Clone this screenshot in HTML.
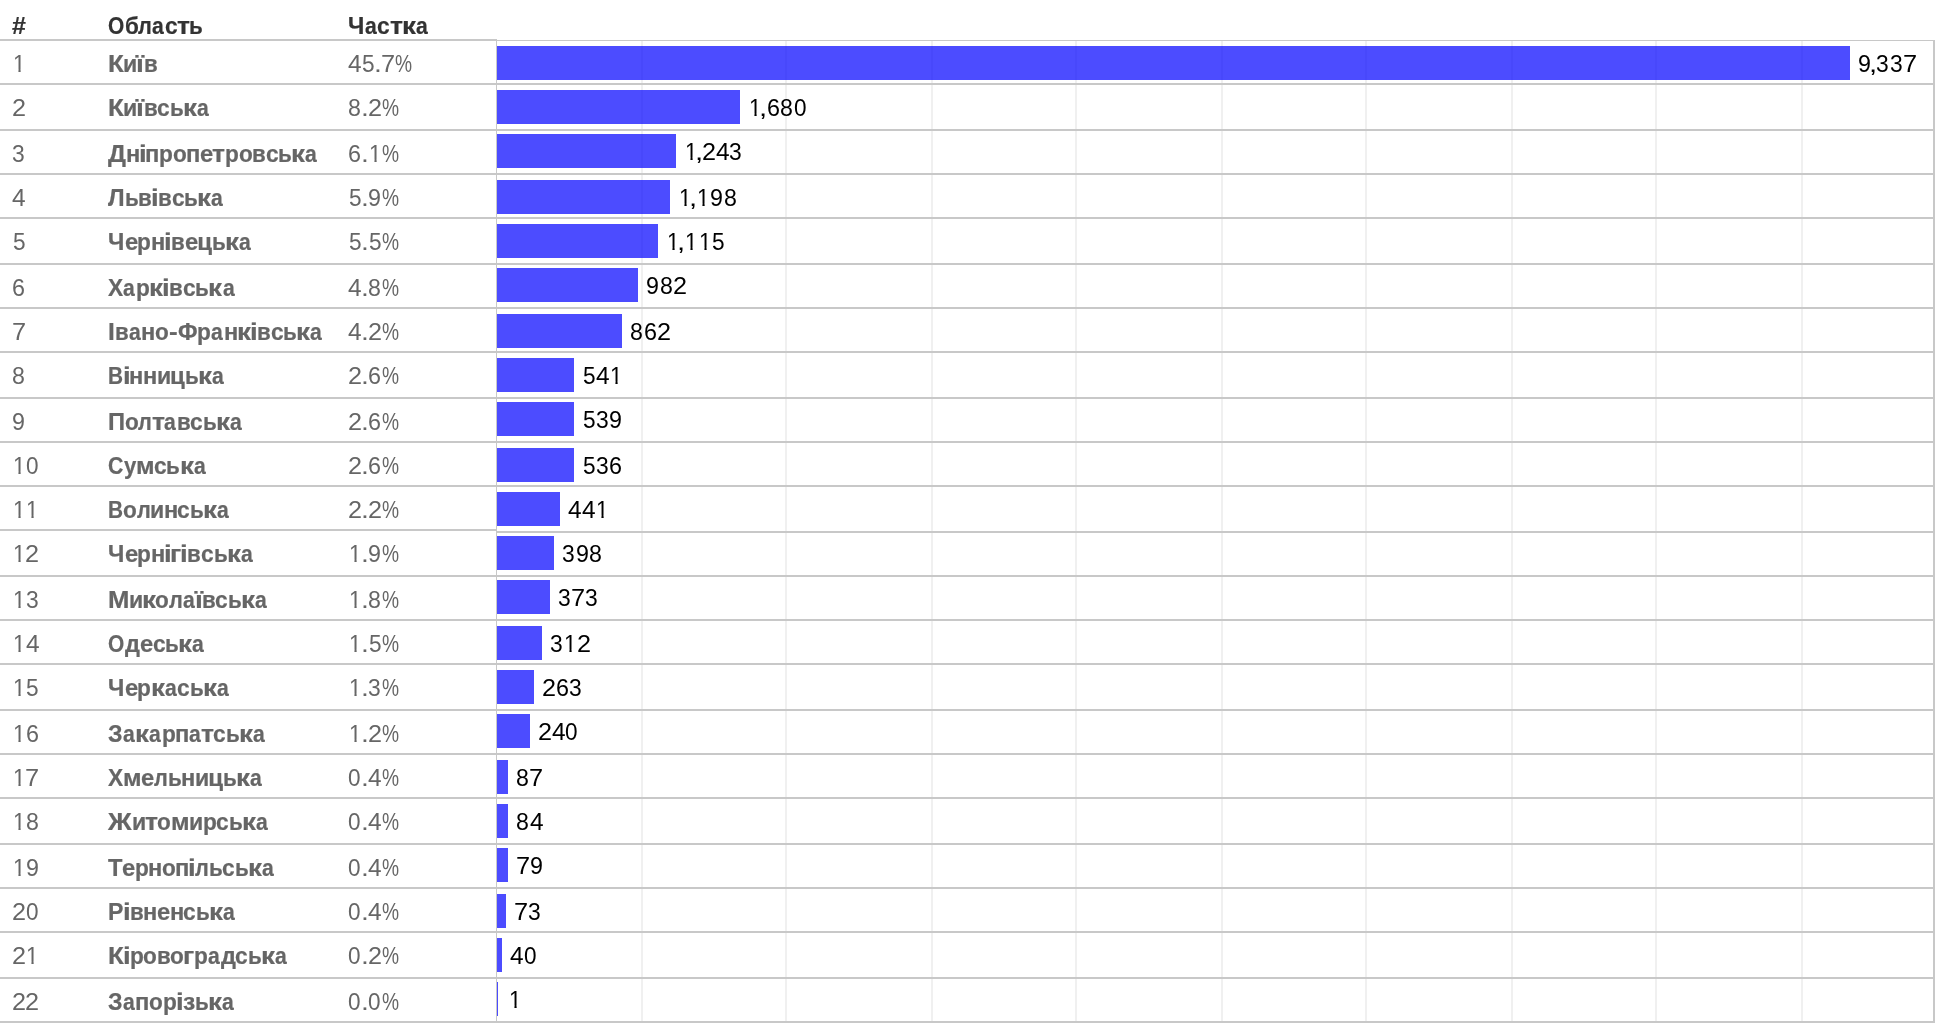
<!DOCTYPE html>
<html lang="uk"><head><meta charset="utf-8"><title>Області</title>
<style>
html,body{margin:0;padding:0;background:#fff;}
body{width:1936px;height:1024px;position:relative;overflow:hidden;font-family:"Liberation Sans",sans-serif;font-size:24px;line-height:28px;}
#w{position:absolute;left:0;top:0;width:1936px;height:1024px;will-change:transform;}
.a{position:absolute;}
.g{position:absolute;top:41px;width:2px;height:982px;background:#f0f0f0;}
.r{position:absolute;left:0;width:497px;height:2px;background:#c8c8c8;}
.c{position:absolute;left:496px;width:1439px;height:2px;background:#c8c8c8;}
.bar{position:absolute;left:497px;height:34px;background:rgba(0,0,255,0.7);}
.t{position:absolute;left:0;height:28px;width:0;white-space:nowrap;}
.t i{position:absolute;top:0;font-style:normal;transform-origin:0 0;white-space:pre;}
.t i.o{clip-path:polygon(0 0,14px 0,14px 19.8px,8.3px 19.8px,8.3px 28px,5.9px 28px,5.9px 19.8px,0 19.8px);}
.hd{font-weight:bold;color:#333;-webkit-text-stroke:0.22px #333;}
.n{color:#666;}
.b{font-weight:bold;color:#666;-webkit-text-stroke:0.22px #666;}
.l{color:#000;}
</style></head><body><div id="w">

<div class="g" style="left:641px"></div>
<div class="g" style="left:785px"></div>
<div class="g" style="left:931px"></div>
<div class="g" style="left:1075px"></div>
<div class="g" style="left:1221px"></div>
<div class="g" style="left:1365px"></div>
<div class="g" style="left:1511px"></div>
<div class="g" style="left:1655px"></div>
<div class="g" style="left:1801px"></div>
<div class="r" style="top:39px"></div>
<div class="r" style="top:83px"></div>
<div class="r" style="top:129px"></div>
<div class="r" style="top:173px"></div>
<div class="r" style="top:217px"></div>
<div class="r" style="top:263px"></div>
<div class="r" style="top:307px"></div>
<div class="r" style="top:351px"></div>
<div class="r" style="top:397px"></div>
<div class="r" style="top:441px"></div>
<div class="r" style="top:485px"></div>
<div class="r" style="top:529px"></div>
<div class="r" style="top:575px"></div>
<div class="r" style="top:619px"></div>
<div class="r" style="top:663px"></div>
<div class="r" style="top:709px"></div>
<div class="r" style="top:753px"></div>
<div class="r" style="top:797px"></div>
<div class="r" style="top:843px"></div>
<div class="r" style="top:887px"></div>
<div class="r" style="top:931px"></div>
<div class="r" style="top:977px"></div>
<div class="r" style="top:1021px"></div>
<div class="c" style="top:40px;height:1px"></div>
<div class="c" style="top:83px"></div>
<div class="c" style="top:129px"></div>
<div class="c" style="top:173px"></div>
<div class="c" style="top:217px"></div>
<div class="c" style="top:263px"></div>
<div class="c" style="top:307px"></div>
<div class="c" style="top:351px"></div>
<div class="c" style="top:397px"></div>
<div class="c" style="top:441px"></div>
<div class="c" style="top:485px"></div>
<div class="c" style="top:531px"></div>
<div class="c" style="top:575px"></div>
<div class="c" style="top:619px"></div>
<div class="c" style="top:663px"></div>
<div class="c" style="top:709px"></div>
<div class="c" style="top:753px"></div>
<div class="c" style="top:797px"></div>
<div class="c" style="top:843px"></div>
<div class="c" style="top:887px"></div>
<div class="c" style="top:931px"></div>
<div class="c" style="top:977px"></div>
<div class="c" style="top:1021px"></div>
<div class="a" style="left:1933px;top:40px;width:2px;height:983px;background:#c8c8c8"></div>
<div class="a" style="left:496px;top:40px;width:1px;height:983px;background:#c8c8c8"></div>
<div class="bar" style="top:46px;width:1353px"></div>
<div class="bar" style="top:90px;width:243px"></div>
<div class="bar" style="top:134px;width:179px"></div>
<div class="bar" style="top:180px;width:173px"></div>
<div class="bar" style="top:224px;width:161px"></div>
<div class="bar" style="top:268px;width:141px"></div>
<div class="bar" style="top:314px;width:125px"></div>
<div class="bar" style="top:358px;width:77px"></div>
<div class="bar" style="top:402px;width:77px"></div>
<div class="bar" style="top:448px;width:77px"></div>
<div class="bar" style="top:492px;width:63px"></div>
<div class="bar" style="top:536px;width:57px"></div>
<div class="bar" style="top:580px;width:53px"></div>
<div class="bar" style="top:626px;width:45px"></div>
<div class="bar" style="top:670px;width:37px"></div>
<div class="bar" style="top:714px;width:33px"></div>
<div class="bar" style="top:760px;width:11px"></div>
<div class="bar" style="top:804px;width:11px"></div>
<div class="bar" style="top:848px;width:11px"></div>
<div class="bar" style="top:894px;width:9px"></div>
<div class="bar" style="top:938px;width:5px"></div>
<div class="bar" style="top:982px;width:1px"></div>
<div class="t hd" style="top:12px"><i style="left:12.26px;transform:scaleX(1.042)">#</i></div>
<div class="t hd" style="top:12px"><i style="left:108.15px;transform:scaleX(0.871)">О</i><i style="left:124.5px;transform:scaleX(0.936)">б</i><i style="left:138.26px;transform:scaleX(0.906)">л</i><i style="left:152px;transform:scaleX(0.882)">а</i><i style="left:164.57px;transform:scaleX(0.948)">с</i><i style="left:176.8px;transform:scaleX(1.104)">т</i><i style="left:189.41px;transform:scaleX(0.933)">ь</i></div>
<div class="t hd" style="top:12px"><i style="left:348.39px;transform:scaleX(0.968)">Ч</i><i style="left:364.81px;transform:scaleX(0.882)">а</i><i style="left:377.38px;transform:scaleX(0.948)">с</i><i style="left:389.62px;transform:scaleX(1.104)">т</i><i style="left:401.85px;transform:scaleX(1.160)">к</i><i style="left:415.91px;transform:scaleX(0.882)">а</i></div>
<div class="t n" style="top:50px"><i class="o" style="left:12.94px;transform:scaleX(0.920)">1</i></div>
<div class="t b" style="top:50px"><i style="left:107.8px;transform:scaleX(1.080)">К</i><i style="left:123.1px;transform:scaleX(0.964)">и</i><i style="left:136.31px;transform:scaleX(1.176)">ї</i><i style="left:143.52px;transform:scaleX(0.929)">в</i></div>
<div class="t n" style="top:50px"><i style="left:348.06px;transform:scaleX(1.019)">4</i><i style="left:362.38px;transform:scaleX(0.943)">5</i><i style="left:374.07px;transform:scaleX(1.179)">.</i><i style="left:380.91px;transform:scaleX(1.057)">7</i><i style="left:395.13px;transform:scaleX(0.800)">%</i></div>
<div class="t l" style="top:50px"><i style="left:1858.08px;transform:scaleX(0.968)">9</i><i style="left:1869.4px;transform:scaleX(1.220)">,</i><i style="left:1876.45px;transform:scaleX(0.951)">3</i><i style="left:1889.93px;transform:scaleX(0.951)">3</i><i style="left:1902.8px;transform:scaleX(1.057)">7</i></div>
<div class="t n" style="top:94px"><i style="left:11.83px;transform:scaleX(1.051)">2</i></div>
<div class="t b" style="top:94px"><i style="left:107.8px;transform:scaleX(1.080)">К</i><i style="left:123.1px;transform:scaleX(0.964)">и</i><i style="left:136.31px;transform:scaleX(1.176)">ї</i><i style="left:143.52px;transform:scaleX(0.929)">в</i><i style="left:156.99px;transform:scaleX(0.948)">с</i><i style="left:169.58px;transform:scaleX(0.933)">ь</i><i style="left:182.62px;transform:scaleX(1.160)">к</i><i style="left:196.67px;transform:scaleX(0.882)">а</i></div>
<div class="t n" style="top:94px"><i style="left:348.32px;transform:scaleX(0.964)">8</i><i style="left:360.59px;transform:scaleX(1.179)">.</i><i style="left:367.64px;transform:scaleX(1.051)">2</i><i style="left:381.64px;transform:scaleX(0.800)">%</i></div>
<div class="t l" style="top:94px"><i class="o" style="left:748.94px;transform:scaleX(0.920)">1</i><i style="left:759.4px;transform:scaleX(1.220)">,</i><i style="left:766.58px;transform:scaleX(0.974)">6</i><i style="left:780.01px;transform:scaleX(0.964)">8</i><i style="left:793.65px;transform:scaleX(0.940)">0</i></div>
<div class="t n" style="top:140px"><i style="left:12.24px;transform:scaleX(0.951)">3</i></div>
<div class="t b" style="top:140px"><i style="left:108.09px;transform:scaleX(1.050)">Д</i><i style="left:125.52px;transform:scaleX(0.985)">н</i><i style="left:138.8px;transform:scaleX(1.153)">і</i><i style="left:145.46px;transform:scaleX(0.988)">п</i><i style="left:159.22px;transform:scaleX(0.943)">р</i><i style="left:172.79px;transform:scaleX(0.939)">о</i><i style="left:186.1px;transform:scaleX(0.988)">п</i><i style="left:199.95px;transform:scaleX(0.993)">е</i><i style="left:212.49px;transform:scaleX(1.104)">т</i><i style="left:224.94px;transform:scaleX(0.943)">р</i><i style="left:238.51px;transform:scaleX(0.939)">о</i><i style="left:252.15px;transform:scaleX(0.929)">в</i><i style="left:265.62px;transform:scaleX(0.948)">с</i><i style="left:278.2px;transform:scaleX(0.933)">ь</i><i style="left:291.23px;transform:scaleX(1.160)">к</i><i style="left:305.28px;transform:scaleX(0.882)">а</i></div>
<div class="t n" style="top:140px"><i style="left:348.37px;transform:scaleX(0.974)">6</i><i style="left:360.59px;transform:scaleX(1.179)">.</i><i class="o" style="left:368.76px;transform:scaleX(0.920)">1</i><i style="left:381.64px;transform:scaleX(0.800)">%</i></div>
<div class="t l" style="top:138px"><i class="o" style="left:684.94px;transform:scaleX(0.920)">1</i><i style="left:695.4px;transform:scaleX(1.220)">,</i><i style="left:702.04px;transform:scaleX(1.051)">2</i><i style="left:715.75px;transform:scaleX(1.019)">4</i><i style="left:729.43px;transform:scaleX(0.951)">3</i></div>
<div class="t n" style="top:184px"><i style="left:12.06px;transform:scaleX(1.019)">4</i></div>
<div class="t b" style="top:184px"><i style="left:108.38px;transform:scaleX(0.986)">Л</i><i style="left:124.91px;transform:scaleX(0.933)">ь</i><i style="left:138.31px;transform:scaleX(0.929)">в</i><i style="left:151.23px;transform:scaleX(1.153)">і</i><i style="left:158.23px;transform:scaleX(0.929)">в</i><i style="left:171.68px;transform:scaleX(0.948)">с</i><i style="left:184.28px;transform:scaleX(0.933)">ь</i><i style="left:197.3px;transform:scaleX(1.160)">к</i><i style="left:211.36px;transform:scaleX(0.882)">а</i></div>
<div class="t n" style="top:184px"><i style="left:348.9px;transform:scaleX(0.943)">5</i><i style="left:360.59px;transform:scaleX(1.179)">.</i><i style="left:367.9px;transform:scaleX(0.968)">9</i><i style="left:381.64px;transform:scaleX(0.800)">%</i></div>
<div class="t l" style="top:184px"><i class="o" style="left:678.94px;transform:scaleX(0.920)">1</i><i style="left:689.4px;transform:scaleX(1.220)">,</i><i class="o" style="left:697.15px;transform:scaleX(0.920)">1</i><i style="left:709.77px;transform:scaleX(0.968)">9</i><i style="left:723.51px;transform:scaleX(0.964)">8</i></div>
<div class="t n" style="top:228px"><i style="left:12.9px;transform:scaleX(0.943)">5</i></div>
<div class="t b" style="top:228px"><i style="left:108.39px;transform:scaleX(0.968)">Ч</i><i style="left:124.56px;transform:scaleX(0.993)">е</i><i style="left:137.44px;transform:scaleX(0.943)">р</i><i style="left:150.77px;transform:scaleX(0.985)">н</i><i style="left:164.05px;transform:scaleX(1.153)">і</i><i style="left:171.02px;transform:scaleX(0.929)">в</i><i style="left:184.51px;transform:scaleX(0.993)">е</i><i style="left:197.2px">ц</i><i style="left:212.02px;transform:scaleX(0.933)">ь</i><i style="left:225.04px;transform:scaleX(1.160)">к</i><i style="left:239.09px;transform:scaleX(0.882)">а</i></div>
<div class="t n" style="top:228px"><i style="left:348.9px;transform:scaleX(0.943)">5</i><i style="left:360.59px;transform:scaleX(1.179)">.</i><i style="left:368.71px;transform:scaleX(0.943)">5</i><i style="left:381.64px;transform:scaleX(0.800)">%</i></div>
<div class="t l" style="top:228px"><i class="o" style="left:666.94px;transform:scaleX(0.920)">1</i><i style="left:677.4px;transform:scaleX(1.220)">,</i><i class="o" style="left:685.15px;transform:scaleX(0.920)">1</i><i class="o" style="left:698.63px;transform:scaleX(0.920)">1</i><i style="left:712.09px;transform:scaleX(0.943)">5</i></div>
<div class="t n" style="top:274px"><i style="left:12.37px;transform:scaleX(0.974)">6</i></div>
<div class="t b" style="top:274px"><i style="left:108.05px;transform:scaleX(0.946)">Х</i><i style="left:123.39px;transform:scaleX(0.882)">а</i><i style="left:135.89px;transform:scaleX(0.943)">р</i><i style="left:149.18px;transform:scaleX(1.160)">к</i><i style="left:162.42px;transform:scaleX(1.153)">і</i><i style="left:169.4px;transform:scaleX(0.929)">в</i><i style="left:182.87px;transform:scaleX(0.948)">с</i><i style="left:195.45px;transform:scaleX(0.933)">ь</i><i style="left:208.48px;transform:scaleX(1.160)">к</i><i style="left:222.53px;transform:scaleX(0.882)">а</i></div>
<div class="t n" style="top:274px"><i style="left:348.06px;transform:scaleX(1.019)">4</i><i style="left:360.59px;transform:scaleX(1.179)">.</i><i style="left:368.13px;transform:scaleX(0.964)">8</i><i style="left:381.64px;transform:scaleX(0.800)">%</i></div>
<div class="t l" style="top:272px"><i style="left:646.08px;transform:scaleX(0.968)">9</i><i style="left:659.8px;transform:scaleX(0.964)">8</i><i style="left:672.8px;transform:scaleX(1.051)">2</i></div>
<div class="t n" style="top:318px"><i style="left:11.61px;transform:scaleX(1.057)">7</i></div>
<div class="t b" style="top:318px"><i style="left:108.13px;transform:scaleX(1.015)">І</i><i style="left:114.99px;transform:scaleX(0.929)">в</i><i style="left:128.74px;transform:scaleX(0.882)">а</i><i style="left:141.07px;transform:scaleX(0.985)">н</i><i style="left:154.89px;transform:scaleX(0.939)">о</i><i style="left:168.88px;transform:scaleX(1.086)">-</i><i style="left:178.06px;transform:scaleX(0.954)">Ф</i><i style="left:197.41px;transform:scaleX(0.943)">р</i><i style="left:211.25px;transform:scaleX(0.882)">а</i><i style="left:223.59px;transform:scaleX(0.985)">н</i><i style="left:237.12px;transform:scaleX(1.160)">к</i><i style="left:250.36px;transform:scaleX(1.153)">і</i><i style="left:257.35px;transform:scaleX(0.929)">в</i><i style="left:270.82px;transform:scaleX(0.948)">с</i><i style="left:283.41px;transform:scaleX(0.933)">ь</i><i style="left:296.43px;transform:scaleX(1.160)">к</i><i style="left:310.49px;transform:scaleX(0.882)">а</i></div>
<div class="t n" style="top:318px"><i style="left:348.06px;transform:scaleX(1.019)">4</i><i style="left:360.59px;transform:scaleX(1.179)">.</i><i style="left:367.64px;transform:scaleX(1.051)">2</i><i style="left:381.64px;transform:scaleX(0.800)">%</i></div>
<div class="t l" style="top:318px"><i style="left:630.32px;transform:scaleX(0.964)">8</i><i style="left:643.86px;transform:scaleX(0.974)">6</i><i style="left:656.8px;transform:scaleX(1.051)">2</i></div>
<div class="t n" style="top:362px"><i style="left:12.32px;transform:scaleX(0.964)">8</i></div>
<div class="t b" style="top:362px"><i style="left:108.13px;transform:scaleX(0.867)">В</i><i style="left:122.66px;transform:scaleX(1.153)">і</i><i style="left:129.3px;transform:scaleX(0.985)">н</i><i style="left:142.9px;transform:scaleX(0.985)">н</i><i style="left:156.52px;transform:scaleX(0.964)">и</i><i style="left:170.04px">ц</i><i style="left:184.86px;transform:scaleX(0.933)">ь</i><i style="left:197.88px;transform:scaleX(1.160)">к</i><i style="left:211.94px;transform:scaleX(0.882)">а</i></div>
<div class="t n" style="top:362px"><i style="left:347.83px;transform:scaleX(1.051)">2</i><i style="left:360.59px;transform:scaleX(1.179)">.</i><i style="left:368.18px;transform:scaleX(0.974)">6</i><i style="left:381.64px;transform:scaleX(0.800)">%</i></div>
<div class="t l" style="top:362px"><i style="left:582.9px;transform:scaleX(0.943)">5</i><i style="left:595.54px;transform:scaleX(1.019)">4</i><i class="o" style="left:609.91px;transform:scaleX(0.920)">1</i></div>
<div class="t n" style="top:408px"><i style="left:12.08px;transform:scaleX(0.968)">9</i></div>
<div class="t b" style="top:408px"><i style="left:107.95px;transform:scaleX(0.989)">П</i><i style="left:124.86px;transform:scaleX(0.939)">о</i><i style="left:138.35px;transform:scaleX(0.906)">л</i><i style="left:151.55px;transform:scaleX(1.104)">т</i><i style="left:164.16px;transform:scaleX(0.882)">а</i><i style="left:176.82px;transform:scaleX(0.929)">в</i><i style="left:190.29px;transform:scaleX(0.948)">с</i><i style="left:202.88px;transform:scaleX(0.933)">ь</i><i style="left:215.9px;transform:scaleX(1.160)">к</i><i style="left:229.95px;transform:scaleX(0.882)">а</i></div>
<div class="t n" style="top:408px"><i style="left:347.83px;transform:scaleX(1.051)">2</i><i style="left:360.59px;transform:scaleX(1.179)">.</i><i style="left:368.18px;transform:scaleX(0.974)">6</i><i style="left:381.64px;transform:scaleX(0.800)">%</i></div>
<div class="t l" style="top:406px"><i style="left:582.9px;transform:scaleX(0.943)">5</i><i style="left:595.73px;transform:scaleX(0.951)">3</i><i style="left:609.05px;transform:scaleX(0.968)">9</i></div>
<div class="t n" style="top:452px"><i class="o" style="left:12.94px;transform:scaleX(0.920)">1</i><i style="left:25.95px;transform:scaleX(0.940)">0</i></div>
<div class="t b" style="top:452px"><i style="left:108.14px;transform:scaleX(0.888)">С</i><i style="left:123.57px;transform:scaleX(0.922)">у</i><i style="left:135.56px;transform:scaleX(1.046)">м</i><i style="left:153.88px;transform:scaleX(0.948)">с</i><i style="left:166.47px;transform:scaleX(0.933)">ь</i><i style="left:179.51px;transform:scaleX(1.160)">к</i><i style="left:193.56px;transform:scaleX(0.882)">а</i></div>
<div class="t n" style="top:452px"><i style="left:347.83px;transform:scaleX(1.051)">2</i><i style="left:360.59px;transform:scaleX(1.179)">.</i><i style="left:368.18px;transform:scaleX(0.974)">6</i><i style="left:381.64px;transform:scaleX(0.800)">%</i></div>
<div class="t l" style="top:452px"><i style="left:582.9px;transform:scaleX(0.943)">5</i><i style="left:595.73px;transform:scaleX(0.951)">3</i><i style="left:609.34px;transform:scaleX(0.974)">6</i></div>
<div class="t n" style="top:496px"><i class="o" style="left:12.94px;transform:scaleX(0.920)">1</i><i class="o" style="left:26.43px;transform:scaleX(0.920)">1</i></div>
<div class="t b" style="top:496px"><i style="left:108.13px;transform:scaleX(0.867)">В</i><i style="left:123.2px;transform:scaleX(0.939)">о</i><i style="left:136.69px;transform:scaleX(0.906)">л</i><i style="left:149.98px;transform:scaleX(0.964)">и</i><i style="left:163.52px;transform:scaleX(0.985)">н</i><i style="left:177.35px;transform:scaleX(0.948)">с</i><i style="left:189.94px;transform:scaleX(0.933)">ь</i><i style="left:202.96px;transform:scaleX(1.160)">к</i><i style="left:217.02px;transform:scaleX(0.882)">а</i></div>
<div class="t n" style="top:496px"><i style="left:347.83px;transform:scaleX(1.051)">2</i><i style="left:360.59px;transform:scaleX(1.179)">.</i><i style="left:367.64px;transform:scaleX(1.051)">2</i><i style="left:381.64px;transform:scaleX(0.800)">%</i></div>
<div class="t l" style="top:496px"><i style="left:568.06px;transform:scaleX(1.019)">4</i><i style="left:581.54px;transform:scaleX(1.019)">4</i><i class="o" style="left:595.91px;transform:scaleX(0.920)">1</i></div>
<div class="t n" style="top:540px"><i class="o" style="left:12.94px;transform:scaleX(0.920)">1</i><i style="left:25.32px;transform:scaleX(1.051)">2</i></div>
<div class="t b" style="top:540px"><i style="left:108.39px;transform:scaleX(0.968)">Ч</i><i style="left:124.56px;transform:scaleX(0.993)">е</i><i style="left:137.44px;transform:scaleX(0.943)">р</i><i style="left:150.77px;transform:scaleX(0.985)">н</i><i style="left:164.05px;transform:scaleX(1.153)">і</i><i style="left:170.45px;transform:scaleX(1.126)">г</i><i style="left:180.47px;transform:scaleX(1.153)">і</i><i style="left:187.45px;transform:scaleX(0.929)">в</i><i style="left:200.91px;transform:scaleX(0.948)">с</i><i style="left:213.5px;transform:scaleX(0.933)">ь</i><i style="left:226.52px;transform:scaleX(1.160)">к</i><i style="left:240.58px;transform:scaleX(0.882)">а</i></div>
<div class="t n" style="top:540px"><i class="o" style="left:348.94px;transform:scaleX(0.920)">1</i><i style="left:360.59px;transform:scaleX(1.179)">.</i><i style="left:367.9px;transform:scaleX(0.968)">9</i><i style="left:381.64px;transform:scaleX(0.800)">%</i></div>
<div class="t l" style="top:540px"><i style="left:562.24px;transform:scaleX(0.951)">3</i><i style="left:575.57px;transform:scaleX(0.968)">9</i><i style="left:589.29px;transform:scaleX(0.964)">8</i></div>
<div class="t n" style="top:586px"><i class="o" style="left:12.94px;transform:scaleX(0.920)">1</i><i style="left:25.73px;transform:scaleX(0.951)">3</i></div>
<div class="t b" style="top:586px"><i style="left:107.8px;transform:scaleX(1.070)">М</i><i style="left:128.7px;transform:scaleX(0.964)">и</i><i style="left:142.19px;transform:scaleX(1.160)">к</i><i style="left:155.45px;transform:scaleX(0.939)">о</i><i style="left:168.94px;transform:scaleX(0.906)">л</i><i style="left:182.7px;transform:scaleX(0.882)">а</i><i style="left:194.7px;transform:scaleX(1.176)">ї</i><i style="left:201.91px;transform:scaleX(0.929)">в</i><i style="left:215.38px;transform:scaleX(0.948)">с</i><i style="left:227.97px;transform:scaleX(0.933)">ь</i><i style="left:240.99px;transform:scaleX(1.160)">к</i><i style="left:255.05px;transform:scaleX(0.882)">а</i></div>
<div class="t n" style="top:586px"><i class="o" style="left:348.94px;transform:scaleX(0.920)">1</i><i style="left:360.59px;transform:scaleX(1.179)">.</i><i style="left:368.13px;transform:scaleX(0.964)">8</i><i style="left:381.64px;transform:scaleX(0.800)">%</i></div>
<div class="t l" style="top:584px"><i style="left:558.24px;transform:scaleX(0.951)">3</i><i style="left:571.1px;transform:scaleX(1.057)">7</i><i style="left:585.21px;transform:scaleX(0.951)">3</i></div>
<div class="t n" style="top:630px"><i class="o" style="left:12.94px;transform:scaleX(0.920)">1</i><i style="left:25.54px;transform:scaleX(1.019)">4</i></div>
<div class="t b" style="top:630px"><i style="left:108.15px;transform:scaleX(0.871)">О</i><i style="left:124.77px;transform:scaleX(0.980)">д</i><i style="left:139.59px;transform:scaleX(0.993)">е</i><i style="left:152.52px;transform:scaleX(0.948)">с</i><i style="left:165.11px;transform:scaleX(0.933)">ь</i><i style="left:178.15px;transform:scaleX(1.160)">к</i><i style="left:192.2px;transform:scaleX(0.882)">а</i></div>
<div class="t n" style="top:630px"><i class="o" style="left:348.94px;transform:scaleX(0.920)">1</i><i style="left:360.59px;transform:scaleX(1.179)">.</i><i style="left:368.71px;transform:scaleX(0.943)">5</i><i style="left:381.64px;transform:scaleX(0.800)">%</i></div>
<div class="t l" style="top:630px"><i style="left:550.24px;transform:scaleX(0.951)">3</i><i class="o" style="left:564.43px;transform:scaleX(0.920)">1</i><i style="left:576.8px;transform:scaleX(1.051)">2</i></div>
<div class="t n" style="top:674px"><i class="o" style="left:12.94px;transform:scaleX(0.920)">1</i><i style="left:26.38px;transform:scaleX(0.943)">5</i></div>
<div class="t b" style="top:674px"><i style="left:108.39px;transform:scaleX(0.968)">Ч</i><i style="left:124.56px;transform:scaleX(0.993)">е</i><i style="left:137.44px;transform:scaleX(0.943)">р</i><i style="left:150.73px;transform:scaleX(1.160)">к</i><i style="left:164.78px;transform:scaleX(0.882)">а</i><i style="left:177.35px;transform:scaleX(0.948)">с</i><i style="left:189.94px;transform:scaleX(0.933)">ь</i><i style="left:202.96px;transform:scaleX(1.160)">к</i><i style="left:217.02px;transform:scaleX(0.882)">а</i></div>
<div class="t n" style="top:674px"><i class="o" style="left:348.94px;transform:scaleX(0.920)">1</i><i style="left:360.59px;transform:scaleX(1.179)">.</i><i style="left:368.06px;transform:scaleX(0.951)">3</i><i style="left:381.64px;transform:scaleX(0.800)">%</i></div>
<div class="t l" style="top:674px"><i style="left:541.83px;transform:scaleX(1.051)">2</i><i style="left:555.86px;transform:scaleX(0.974)">6</i><i style="left:569.21px;transform:scaleX(0.951)">3</i></div>
<div class="t n" style="top:720px"><i class="o" style="left:12.94px;transform:scaleX(0.920)">1</i><i style="left:25.86px;transform:scaleX(0.974)">6</i></div>
<div class="t b" style="top:720px"><i style="left:108.27px;transform:scaleX(0.968)">З</i><i style="left:122.97px;transform:scaleX(0.882)">а</i><i style="left:135.26px;transform:scaleX(1.160)">к</i><i style="left:149.31px;transform:scaleX(0.882)">а</i><i style="left:161.82px;transform:scaleX(0.943)">р</i><i style="left:175.14px;transform:scaleX(0.988)">п</i><i style="left:189.25px;transform:scaleX(0.882)">а</i><i style="left:201.37px;transform:scaleX(1.104)">т</i><i style="left:213.07px;transform:scaleX(0.948)">с</i><i style="left:225.66px;transform:scaleX(0.933)">ь</i><i style="left:238.69px;transform:scaleX(1.160)">к</i><i style="left:252.75px;transform:scaleX(0.882)">а</i></div>
<div class="t n" style="top:720px"><i class="o" style="left:348.94px;transform:scaleX(0.920)">1</i><i style="left:360.59px;transform:scaleX(1.179)">.</i><i style="left:367.64px;transform:scaleX(1.051)">2</i><i style="left:381.64px;transform:scaleX(0.800)">%</i></div>
<div class="t l" style="top:718px"><i style="left:537.83px;transform:scaleX(1.051)">2</i><i style="left:551.54px;transform:scaleX(1.019)">4</i><i style="left:565.44px;transform:scaleX(0.940)">0</i></div>
<div class="t n" style="top:764px"><i class="o" style="left:12.94px;transform:scaleX(0.920)">1</i><i style="left:25.1px;transform:scaleX(1.057)">7</i></div>
<div class="t b" style="top:764px"><i style="left:108.05px;transform:scaleX(0.946)">Х</i><i style="left:123.02px;transform:scaleX(1.046)">м</i><i style="left:141.36px;transform:scaleX(0.993)">е</i><i style="left:154.43px;transform:scaleX(0.906)">л</i><i style="left:168px;transform:scaleX(0.933)">ь</i><i style="left:181.07px;transform:scaleX(0.985)">н</i><i style="left:194.7px;transform:scaleX(0.964)">и</i><i style="left:208.21px">ц</i><i style="left:223.05px;transform:scaleX(0.933)">ь</i><i style="left:236.07px;transform:scaleX(1.160)">к</i><i style="left:250.13px;transform:scaleX(0.882)">а</i></div>
<div class="t n" style="top:764px"><i style="left:348.47px;transform:scaleX(0.940)">0</i><i style="left:360.59px;transform:scaleX(1.179)">.</i><i style="left:367.87px;transform:scaleX(1.019)">4</i><i style="left:381.64px;transform:scaleX(0.800)">%</i></div>
<div class="t l" style="top:764px"><i style="left:516.32px;transform:scaleX(0.964)">8</i><i style="left:529.1px;transform:scaleX(1.057)">7</i></div>
<div class="t n" style="top:808px"><i class="o" style="left:12.94px;transform:scaleX(0.920)">1</i><i style="left:25.8px;transform:scaleX(0.964)">8</i></div>
<div class="t b" style="top:808px"><i style="left:108.27px;transform:scaleX(1.087)">Ж</i><i style="left:131.68px;transform:scaleX(0.964)">и</i><i style="left:145.19px;transform:scaleX(1.104)">т</i><i style="left:157.31px;transform:scaleX(0.939)">о</i><i style="left:170.75px;transform:scaleX(1.046)">м</i><i style="left:188.88px;transform:scaleX(0.964)">и</i><i style="left:202.6px;transform:scaleX(0.943)">р</i><i style="left:216.16px;transform:scaleX(0.948)">с</i><i style="left:228.77px;transform:scaleX(0.933)">ь</i><i style="left:241.79px;transform:scaleX(1.160)">к</i><i style="left:255.84px;transform:scaleX(0.882)">а</i></div>
<div class="t n" style="top:808px"><i style="left:348.47px;transform:scaleX(0.940)">0</i><i style="left:360.59px;transform:scaleX(1.179)">.</i><i style="left:367.87px;transform:scaleX(1.019)">4</i><i style="left:381.64px;transform:scaleX(0.800)">%</i></div>
<div class="t l" style="top:808px"><i style="left:516.32px;transform:scaleX(0.964)">8</i><i style="left:529.54px;transform:scaleX(1.019)">4</i></div>
<div class="t n" style="top:854px"><i class="o" style="left:12.94px;transform:scaleX(0.920)">1</i><i style="left:25.57px;transform:scaleX(0.968)">9</i></div>
<div class="t b" style="top:854px"><i style="left:108.22px;transform:scaleX(0.985)">Т</i><i style="left:121.69px;transform:scaleX(0.993)">е</i><i style="left:134.57px;transform:scaleX(0.943)">р</i><i style="left:147.9px;transform:scaleX(0.985)">н</i><i style="left:161.72px;transform:scaleX(0.939)">о</i><i style="left:175.02px;transform:scaleX(0.988)">п</i><i style="left:188.31px;transform:scaleX(1.153)">і</i><i style="left:195.34px;transform:scaleX(0.906)">л</i><i style="left:208.91px;transform:scaleX(0.933)">ь</i><i style="left:222.21px;transform:scaleX(0.948)">с</i><i style="left:234.8px;transform:scaleX(0.933)">ь</i><i style="left:247.83px;transform:scaleX(1.160)">к</i><i style="left:261.89px;transform:scaleX(0.882)">а</i></div>
<div class="t n" style="top:854px"><i style="left:348.47px;transform:scaleX(0.940)">0</i><i style="left:360.59px;transform:scaleX(1.179)">.</i><i style="left:367.87px;transform:scaleX(1.019)">4</i><i style="left:381.64px;transform:scaleX(0.800)">%</i></div>
<div class="t l" style="top:852px"><i style="left:515.61px;transform:scaleX(1.057)">7</i><i style="left:529.57px;transform:scaleX(0.968)">9</i></div>
<div class="t n" style="top:898px"><i style="left:11.83px;transform:scaleX(1.051)">2</i><i style="left:25.95px;transform:scaleX(0.940)">0</i></div>
<div class="t b" style="top:898px"><i style="left:107.98px;transform:scaleX(0.961)">Р</i><i style="left:122.81px;transform:scaleX(1.153)">і</i><i style="left:129.79px;transform:scaleX(0.929)">в</i><i style="left:143.02px;transform:scaleX(0.985)">н</i><i style="left:156.86px;transform:scaleX(0.993)">е</i><i style="left:169.57px;transform:scaleX(0.985)">н</i><i style="left:183.38px;transform:scaleX(0.948)">с</i><i style="left:195.97px;transform:scaleX(0.933)">ь</i><i style="left:208.99px;transform:scaleX(1.160)">к</i><i style="left:223.05px;transform:scaleX(0.882)">а</i></div>
<div class="t n" style="top:898px"><i style="left:348.47px;transform:scaleX(0.940)">0</i><i style="left:360.59px;transform:scaleX(1.179)">.</i><i style="left:367.87px;transform:scaleX(1.019)">4</i><i style="left:381.64px;transform:scaleX(0.800)">%</i></div>
<div class="t l" style="top:898px"><i style="left:513.61px;transform:scaleX(1.057)">7</i><i style="left:527.73px;transform:scaleX(0.951)">3</i></div>
<div class="t n" style="top:942px"><i style="left:11.83px;transform:scaleX(1.051)">2</i><i class="o" style="left:26.43px;transform:scaleX(0.920)">1</i></div>
<div class="t b" style="top:942px"><i style="left:107.8px;transform:scaleX(1.080)">К</i><i style="left:122.84px;transform:scaleX(1.153)">і</i><i style="left:129.66px;transform:scaleX(0.943)">р</i><i style="left:143.23px;transform:scaleX(0.939)">о</i><i style="left:156.87px;transform:scaleX(0.929)">в</i><i style="left:170.34px;transform:scaleX(0.939)">о</i><i style="left:183.4px;transform:scaleX(1.126)">г</i><i style="left:193.88px;transform:scaleX(0.943)">р</i><i style="left:207.72px;transform:scaleX(0.882)">а</i><i style="left:220.63px;transform:scaleX(0.980)">д</i><i style="left:235.43px;transform:scaleX(0.948)">с</i><i style="left:248.03px;transform:scaleX(0.933)">ь</i><i style="left:261.05px;transform:scaleX(1.160)">к</i><i style="left:275.11px;transform:scaleX(0.882)">а</i></div>
<div class="t n" style="top:942px"><i style="left:348.47px;transform:scaleX(0.940)">0</i><i style="left:360.59px;transform:scaleX(1.179)">.</i><i style="left:367.64px;transform:scaleX(1.051)">2</i><i style="left:381.64px;transform:scaleX(0.800)">%</i></div>
<div class="t l" style="top:942px"><i style="left:510.06px;transform:scaleX(1.019)">4</i><i style="left:523.95px;transform:scaleX(0.940)">0</i></div>
<div class="t n" style="top:988px"><i style="left:11.83px;transform:scaleX(1.051)">2</i><i style="left:25.32px;transform:scaleX(1.051)">2</i></div>
<div class="t b" style="top:988px"><i style="left:108.27px;transform:scaleX(0.968)">З</i><i style="left:122.97px;transform:scaleX(0.882)">а</i><i style="left:135.3px;transform:scaleX(0.988)">п</i><i style="left:149.14px;transform:scaleX(0.939)">о</i><i style="left:162.61px;transform:scaleX(0.943)">р</i><i style="left:175.64px;transform:scaleX(1.153)">і</i><i style="left:182.83px;transform:scaleX(1.027)">з</i><i style="left:194.97px;transform:scaleX(0.933)">ь</i><i style="left:207.99px;transform:scaleX(1.160)">к</i><i style="left:222.05px;transform:scaleX(0.882)">а</i></div>
<div class="t n" style="top:988px"><i style="left:348.47px;transform:scaleX(0.940)">0</i><i style="left:360.59px;transform:scaleX(1.179)">.</i><i style="left:368.28px;transform:scaleX(0.940)">0</i><i style="left:381.64px;transform:scaleX(0.800)">%</i></div>
<div class="t l" style="top:986px"><i class="o" style="left:508.94px;transform:scaleX(0.920)">1</i></div>
</div></body></html>
